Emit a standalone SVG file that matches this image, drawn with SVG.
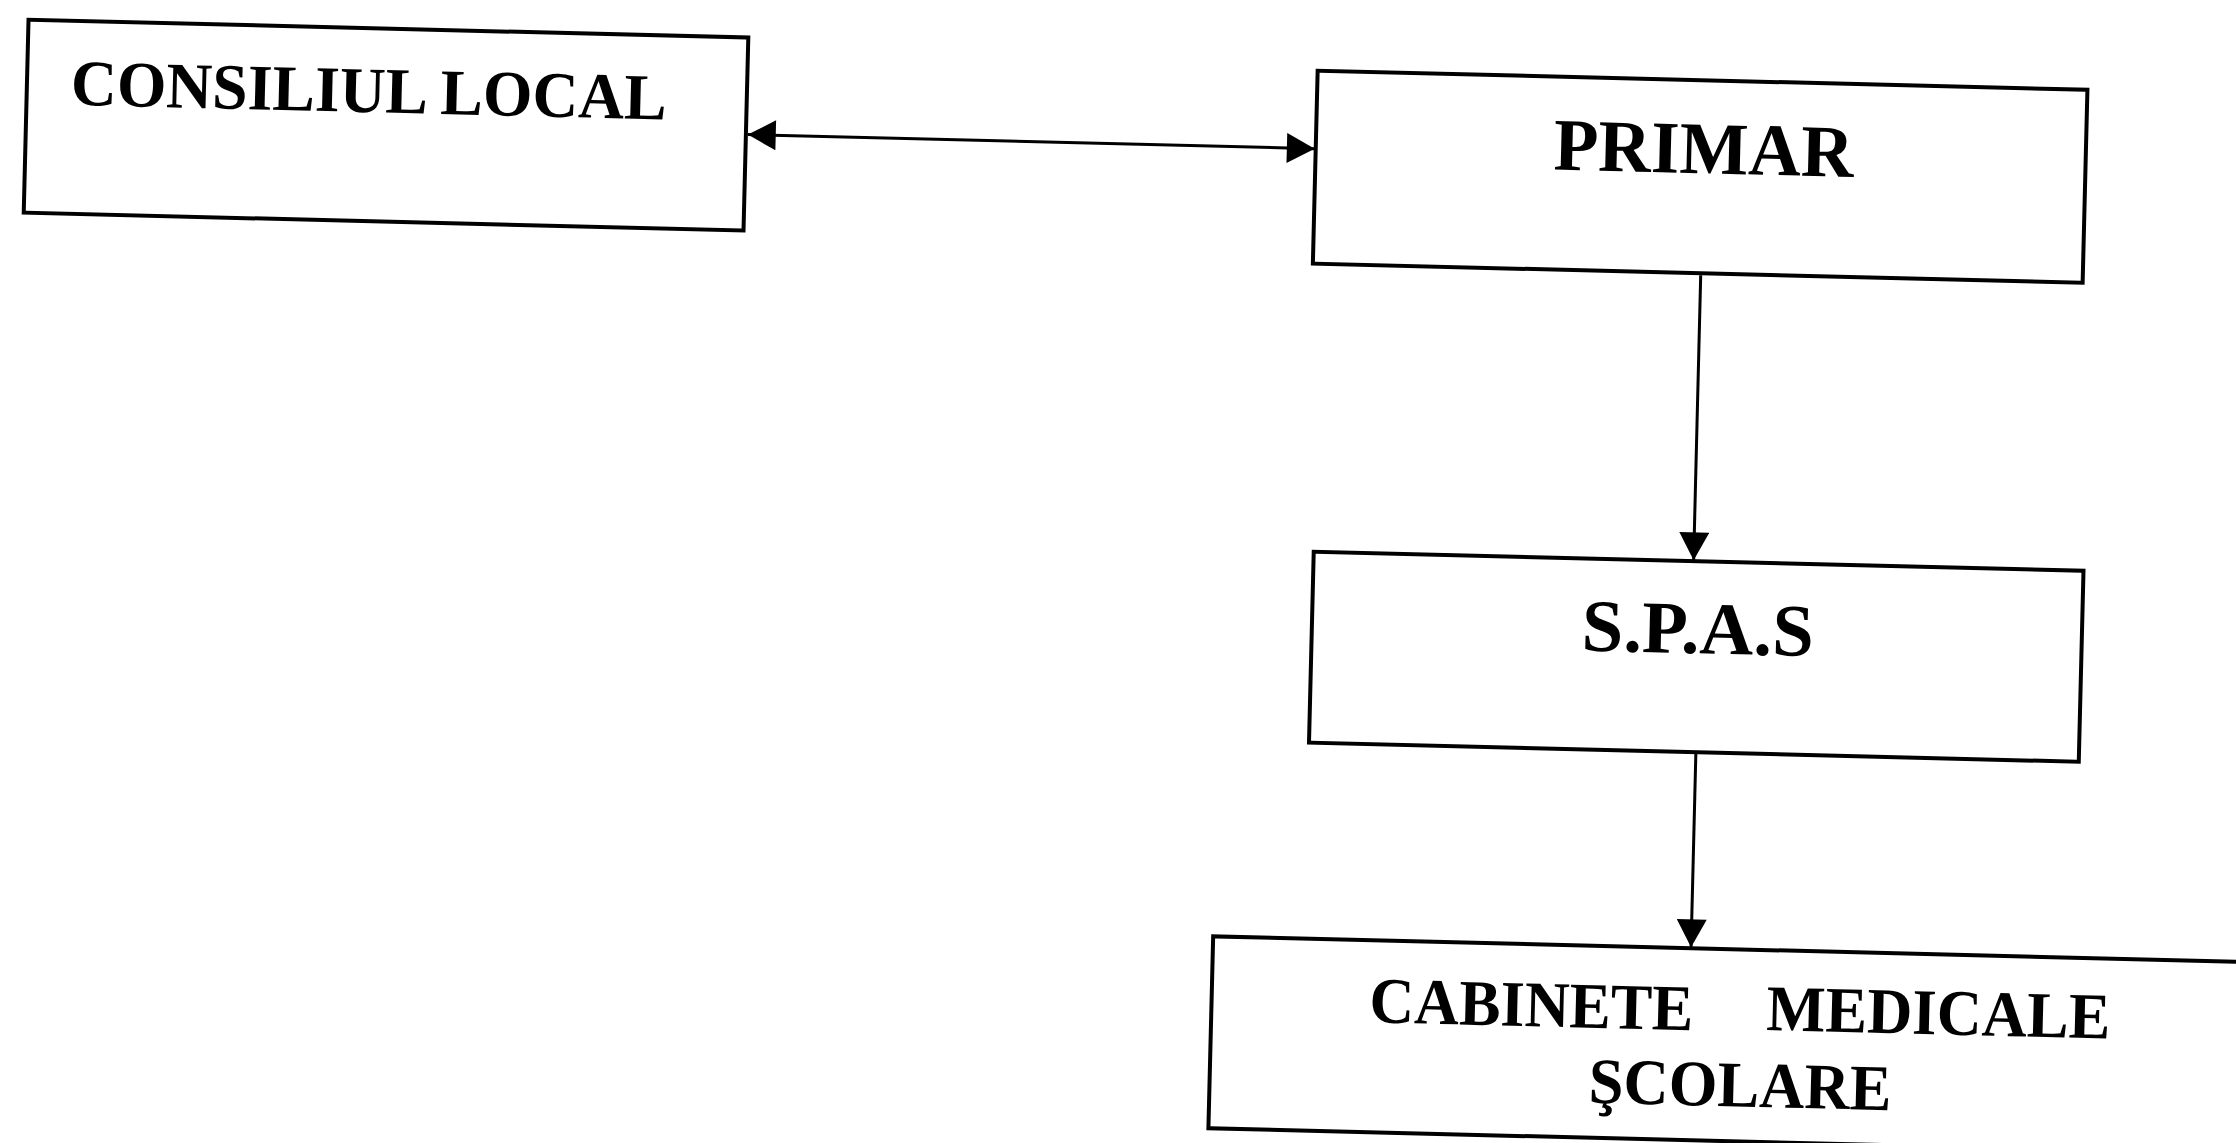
<svg xmlns="http://www.w3.org/2000/svg" width="2236" height="1143" viewBox="0 0 2236 1143">
<style>
.box{fill:#fff;stroke:#000;stroke-width:4}
.lbl{font-family:"Liberation Serif","Times New Roman",serif;font-weight:bold;fill:#000}
.con{stroke:#000;stroke-width:3;fill:none}
</style>
<defs>
<marker id="ah" markerUnits="userSpaceOnUse" markerWidth="30" markerHeight="30" viewBox="0 0 26 28" refX="26" refY="14" orient="auto-start-reverse">
<path d="M0,0 L26,14 L0,28 Z" fill="#000"/>
</marker>
</defs>
<rect width="2236" height="1143" fill="#fff"/>
<g transform="rotate(1.42)">
<g id="consiliul-local">
<rect class="box" x="29" y="19" width="720" height="193"/>
<text class="lbl" x="73" y="103" font-size="65" textLength="596" lengthAdjust="spacingAndGlyphs">CONSILIUL LOCAL</text>
</g>
<g id="primar">
<rect class="box" x="1319" y="38" width="770" height="193"/>
<text class="lbl" x="1557" y="131" font-size="74" textLength="300" lengthAdjust="spacingAndGlyphs">PRIMAR</text>
</g>
<g id="spas">
<rect class="box" x="1327" y="519" width="770" height="191"/>
<text class="lbl" x="1597" y="611" font-size="74" textLength="232" lengthAdjust="spacingAndGlyphs">S.P.A.S</text>
</g>
<g id="cabinete">
<rect class="box" x="1236" y="906" width="1100" height="192"/>
<text class="lbl" font-size="65"><tspan x="1394" y="988" textLength="324" lengthAdjust="spacingAndGlyphs">CABINETE</tspan> <tspan x="1791" y="986" textLength="344" lengthAdjust="spacingAndGlyphs">MEDICALE</tspan></text>
<text class="lbl" x="1615" y="1063" font-size="65" textLength="303" lengthAdjust="spacingAndGlyphs">ŞCOLARE</text>
</g>
<g id="connectors">
<line class="con" x1="751" y1="116" x2="1318" y2="116" marker-start="url(#ah)" marker-end="url(#ah)"/>
<line class="con" x1="1707" y1="233" x2="1707" y2="518" marker-end="url(#ah)"/>
<line class="con" x1="1714" y1="711" x2="1714" y2="905" marker-end="url(#ah)"/>
</g>
</g>
</svg>
